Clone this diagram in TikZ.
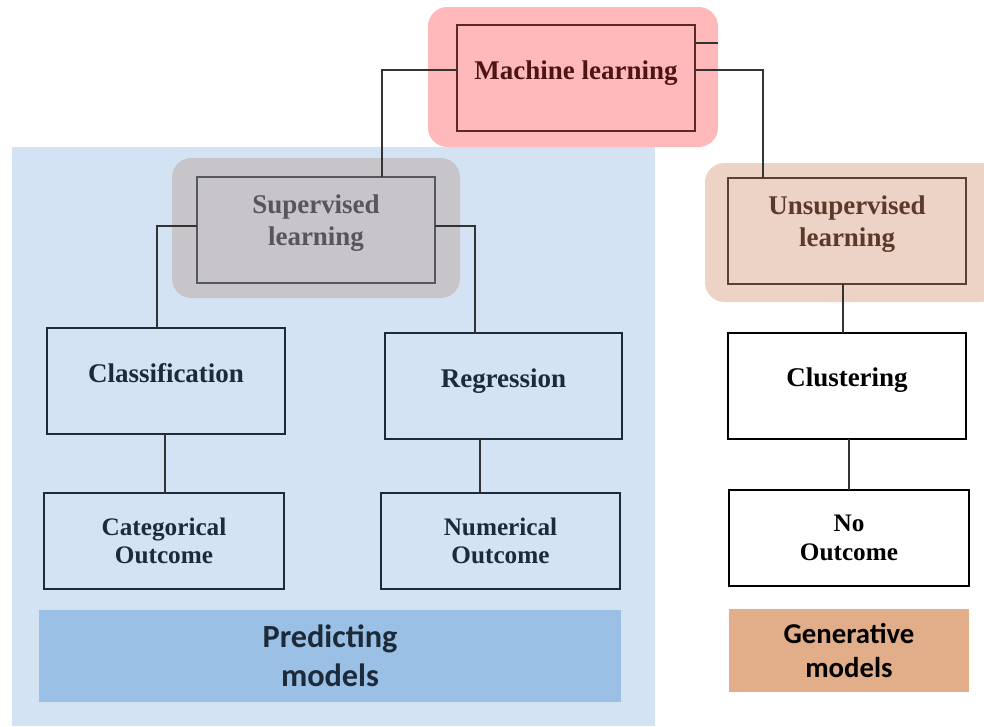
\documentclass[tikz,border=0pt]{standalone}
\usepackage{fontspec}
\setmainfont{Liberation Serif}
\newfontfamily\lblfont{Carlito}
\definecolor{bluebg}{HTML}{D3E3F3}
\definecolor{pinkbg}{HTML}{FFB9BB}
\definecolor{graybg}{HTML}{C7C4CA}
\definecolor{tanbg}{HTML}{EDD3C6}
\definecolor{predfill}{HTML}{9BC0E5}
\definecolor{genfill}{HTML}{E2AE8A}
\definecolor{mltext}{HTML}{4D1414}
\definecolor{mlline}{HTML}{5A2A2A}
\definecolor{suptext}{HTML}{56565C}
\definecolor{supline}{HTML}{55585E}
\definecolor{unstext}{HTML}{5C3A2A}
\definecolor{unsline}{HTML}{5C3F33}
\definecolor{navy}{HTML}{1C2A3A}
\definecolor{conn}{HTML}{333333}
\tikzset{
  bx/.style 2 args={minimum width=#1*0.5669pt, minimum height=#2*0.5669pt, inner sep=0pt, outer sep=0pt, rectangle},
  framebox/.style={draw, line width=1.1pt},
  thickbox/.style={draw, line width=1.6pt},
  serif/.style={font=\fontsize{15.3}{18.2}\selectfont\bfseries, align=center},
  serifsm/.style={font=\fontsize{14.3}{16.2}\selectfont\bfseries, align=center},
  connector/.style={draw=conn, line width=0.9pt},
}
\begin{document}
\begin{tikzpicture}[x=0.5669pt,y=-0.5669pt]
\useasboundingbox (0,0) rectangle (984,726);
% backgrounds
\fill[bluebg] (12,147) rectangle (655,726);
\fill[pinkbg, rounded corners=11pt] (428,7) rectangle (718,147);
\fill[graybg, rounded corners=11pt] (172,158) rectangle (460,298);
\fill[tanbg, rounded corners=11pt] (705,163) rectangle (1000,302);
% boxes
\node[bx={238}{106}, framebox, draw=mlline, label={[serif, text=mltext, yshift=3pt]center:Machine learning}] (ml) at (576,78) {};
\node[bx={238}{106}, framebox, draw=supline, label={[serif, text=suptext, yshift=4pt]center:Supervised\\learning}] (sup) at (316,230) {};
\node[bx={238}{106}, framebox, draw=unsline, label={[serif, text=unstext, yshift=4pt]center:Unsupervised\\learning}] (uns) at (847,231) {};
\node[bx={238}{106}, framebox, draw=navy, label={[serif, text=navy, yshift=4.5pt]center:Classification}] (cls) at (166,381) {};
\node[bx={237}{106}, framebox, draw=navy, label={[serif, text=navy, yshift=3pt]center:Regression}] (reg) at (503.5,386) {};
\node[bx={238}{106}, framebox, draw=black, fill=white, label={[serif, text=black, yshift=3.5pt]center:Clustering}] (clu) at (847,386) {};
\node[bx={240}{96}, thickbox, draw=navy, label={[serifsm, text=navy]center:Categorical\\Outcome}] (cat) at (164,541) {};
\node[bx={239}{96}, thickbox, draw=navy, label={[serifsm, text=navy]center:Numerical\\Outcome}] (num) at (500.5,541) {};
\node[bx={240}{96}, thickbox, draw=black, fill=white, label={[serifsm, text=black]center:No\\Outcome}] (noo) at (849,538) {};
\node[bx={582}{92}, fill=predfill, font=\lblfont\bfseries\fontsize{18.3}{22}\selectfont, text=navy, align=center] (pred) at (330,656) {Predicting\\models};
\node[bx={240}{83}, fill=genfill, font=\lblfont\bfseries\fontsize{16.3}{19.3}\selectfont, text=black, align=center] (gen) at (849,650.5) {Generative\\models};
% connectors
\coordinate (stubend) at (718,43);
\draw[connector] (ml.east |- stubend) -- (stubend);
\draw[connector] (ml.west |- 0,70) -| (sup.north -| 382,0);
\draw[connector] (ml.east |- 0,70) -| (uns.north -| 763,0);
\draw[connector] (sup.west |- 0,226) -| (cls.north -| 157,0);
\draw[connector] (sup.east |- 0,226) -| (reg.north -| 475,0);
\draw[connector] (cls.south -| 165,0) -- (cat.north -| 165,0);
\draw[connector] (reg.south -| 480,0) -- (num.north -| 480,0);
\draw[connector] (uns.south -| 843,0) -- (clu.north -| 843,0);
\draw[connector] (clu.south -| 849,0) -- (noo.north -| 849,0);
\end{tikzpicture}
\end{document}
